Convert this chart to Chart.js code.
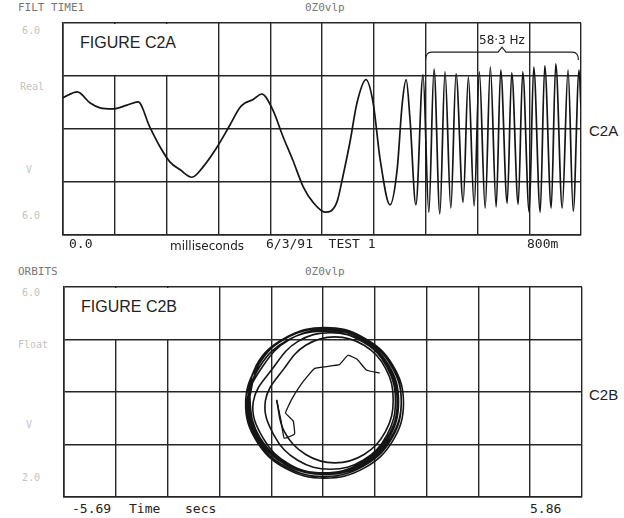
<!DOCTYPE html>
<html>
<head>
<meta charset="utf-8">
<script src="https://cdn.jsdelivr.net/npm/chart.js@4"></script>
<style>
  body { margin: 0; background: #fff; }
  #page { position: relative; width: 624px; height: 518px; overflow: hidden; background: #fff; }
  canvas { position: absolute; }
  .t { position: absolute; white-space: pre; line-height: 14px; }
  .mono { font-family: 'DejaVu Sans Mono', monospace; font-size: 13px; color: #222; }
  .faint { font-family: 'DejaVu Sans Mono', monospace; font-size: 10px; color: #c2c2c2; }
  .head { font-family: 'DejaVu Sans Mono', monospace; font-size: 11px; color: #777; }
  .side { font-family: 'Liberation Sans', Arial, sans-serif; font-size: 15px; color: #222; }
  .hand { font-family: 'DejaVu Sans', sans-serif; font-size: 12px; color: #222; }
  .figbox { position: absolute; background: #fff; font-family: 'Liberation Sans', Arial, sans-serif;
            font-size: 16px; color: #222; line-height: 16px; box-sizing: border-box; }
</style>
</head>
<body>
<div id="page">
  <canvas id="timeChart"></canvas>
  <canvas id="orbitChart"></canvas>
</div>
<script>
// top panel: filtered time trace (ms / V)
const timeMs = [0, 22, 42, 57, 77, 99, 116, 134, 150, 165, 181, 199, 216, 238, 258, 273, 281, 293, 307,
  324, 340, 355, 371, 386, 405, 423, 432, 443, 454, 468, 479, 490, 505, 516, 524, 530, 536, 545,
  556, 565, 573, 582, 590, 599, 607, 618, 626, 635, 643, 652, 660, 669, 676, 686, 693, 703, 710,
  720, 727, 737, 744, 754, 761, 771, 780, 788, 797, 800];
const signalV = [0.59, 0.70, 0.49, 0.40, 0.38, 0.45, 0.51, 0.04, -0.34, -0.62, -0.77, -0.91, -0.72, -0.34, 0.08, 0.40, 0.49, 0.55, 0.66,
  0.36, -0.15, -0.59, -1.09, -1.38, -1.57, -1.38, -0.91, -0.26, 0.49, 0.93, 0.49, -0.59, -1.43, -0.77, 0.49, 0.93, 0.17, -1.43,
  1.02, -1.57, 1.13, -1.60, 1.08, -1.49, 1.04, -1.38, 0.98, -1.45, 1.08, -1.49, 1.17, -1.47, 1.11, -1.40, 1.06, -1.42, 1.08,
  -1.57, 1.17, -1.57, 1.19, -1.49, 1.23, -1.49, 1.11, -1.55, 1.11, 0.40];

// 58.3 Hz bracket span (ms) and level (V)
const bracketMs = [560, 796];
const bracketV = 1.45;

// bottom panel: orbit, start-up path then the settled loops
const startX = [1.35, 1.05, 0.85, 0.64, 0.45, -0.10, -0.40, -0.62, -0.75, -0.58, -0.55, -0.78, -0.85, -0.95];
const startY = [0.36, 0.42, 0.62, 0.70, 0.52, 0.45, 0.15, -0.15, -0.40, -0.55, -0.80, -0.88, -0.55, -0.15];
const loopX = [
  -0.95, -0.78, -0.30, 0.35, 1.00, 1.48, 1.65, 1.48, 1.00, 0.35, -0.30, -0.78,
  -1.20, -1.01, -0.48, 0.25, 0.98, 1.51, 1.70, 1.51, 0.98, 0.25, -0.48, -1.01,
  -1.47, -1.25, -0.66, 0.15, 0.96, 1.55, 1.77, 1.55, 0.96, 0.15, -0.66, -1.25,
  -1.61, -1.38, -0.75, 0.11, 0.97, 1.60, 1.83, 1.60, 0.97, 0.11, -0.75, -1.38,
  -1.59, -1.37, -0.75, 0.09, 0.93, 1.55, 1.77, 1.55, 0.93, 0.09, -0.75, -1.37,
  -1.64, -1.40, -0.76, 0.12, 1.00, 1.64, 1.88, 1.64, 1.00, 0.12, -0.76, -1.40,
  -1.54, -1.32, -0.72, 0.10, 0.92, 1.52, 1.74, 1.52, 0.92, 0.10, -0.72, -1.32,
  -1.57, -1.34, -0.72, 0.13, 0.98, 1.60, 1.83, 1.60, 0.98, 0.13, -0.72, -1.34, -1.57];
const loopY = [
  -0.15, -0.75, -1.19, -1.35, -1.19, -0.75, -0.15, 0.45, 0.89, 1.05, 0.89, 0.45,
  -0.17, -0.82, -1.30, -1.47, -1.30, -0.82, -0.17, 0.48, 0.96, 1.13, 0.96, 0.48,
  -0.19, -0.88, -1.38, -1.56, -1.38, -0.88, -0.19, 0.50, 1.00, 1.18, 1.00, 0.50,
  -0.20, -0.91, -1.42, -1.61, -1.42, -0.91, -0.20, 0.51, 1.02, 1.21, 1.02, 0.51,
  -0.18, -0.87, -1.38, -1.56, -1.38, -0.87, -0.18, 0.51, 1.02, 1.20, 1.02, 0.51,
  -0.21, -0.93, -1.45, -1.64, -1.45, -0.93, -0.21, 0.51, 1.03, 1.22, 1.03, 0.51,
  -0.19, -0.87, -1.36, -1.54, -1.36, -0.87, -0.19, 0.49, 0.98, 1.16, 0.98, 0.49,
  -0.17, -0.87, -1.38, -1.57, -1.38, -0.87, -0.17, 0.53, 1.04, 1.23, 1.04, 0.53, -0.17];

// axis end labels and faded y labels
const xTickLabelsA = ['0.0', '800m'];
const xTickLabelsB = ['-5.69', '5.86'];
const xRangeB = [-5.69, 5.86];
const yLabelsA = ['6.0', 'Real', 'V', '6.0'];
const yLabelsB = ['6.0', 'Float', 'V', '2.0'];

const page = document.getElementById('page');
function addText(text, x, cy, cls) {
  const d = document.createElement('div');
  d.className = 't ' + cls;
  d.textContent = text;
  d.style.left = x + 'px';
  d.style.top = (cy - 7) + 'px';
  page.appendChild(d);
}
function addFigBox(text, x, y) {
  const d = document.createElement('div');
  d.className = 'figbox';
  d.textContent = text;
  d.style.left = x + 'px';
  d.style.top = y + 'px';
  d.style.width = '153px';
  d.style.height = '51px';
  d.style.padding = '11px 0 0 16px';
  page.appendChild(d);
}

function placeCanvas(id, left, top, w, h) {
  const c = document.getElementById(id);
  c.style.left = left + 'px';
  c.style.top = top + 'px';
  c.style.width = w + 'px';
  c.style.height = h + 'px';
  c.width = w;
  c.height = h;
  return c.getContext('2d');
}

const gridColor = '#262626';
function axes(xMin, xMax, xStep) {
  return {
    x: {
      type: 'linear', min: xMin, max: xMax,
      ticks: { display: false, stepSize: xStep },
      grid: { color: gridColor, lineWidth: 1.4, drawTicks: false },
      border: { display: true, color: gridColor, width: 1.6 }
    },
    y: {
      min: -2, max: 2,
      ticks: { display: false, stepSize: 1 },
      grid: { color: gridColor, lineWidth: 1.4, drawTicks: false },
      border: { display: true, color: gridColor, width: 1.6 }
    }
  };
}

// curly bracket over the 58.3 Hz section, in data coordinates
const bracketPlugin = {
  id: 'bracket',
  afterDatasetsDraw(chart) {
    const xs = chart.scales.x, ys = chart.scales.y;
    const x0 = xs.getPixelForValue(bracketMs[0]);
    const x1 = xs.getPixelForValue(bracketMs[1]);
    const xc = (x0 + x1) / 2;
    const yTop = ys.getPixelForValue(bracketV);
    const yHook = ys.getPixelForValue(bracketV - 0.15);
    const ctx = chart.ctx;
    ctx.save();
    ctx.strokeStyle = '#222';
    ctx.lineWidth = 1.2;
    ctx.beginPath();
    ctx.moveTo(x0, yHook);
    ctx.quadraticCurveTo(x0, yTop, x0 + 6, yTop);
    ctx.lineTo(xc - 4, yTop);
    ctx.lineTo(xc, yTop - 5);
    ctx.lineTo(xc + 4, yTop);
    ctx.lineTo(x1 - 6, yTop);
    ctx.quadraticCurveTo(x1, yTop, x1, yHook);
    ctx.stroke();
    ctx.restore();
  }
};

const ctxA = placeCanvas('timeChart', 61, 21, 522, 216);
new Chart(ctxA, {
  type: 'scatter',
  data: {
    datasets: [{
      data: timeMs.map((t, i) => ({ x: t, y: signalV[i] })),
      showLine: true,
      borderColor: '#151515',
      borderWidth: 1.7,
      pointRadius: 0,
      cubicInterpolationMode: 'monotone'
    }]
  },
  options: {
    responsive: false,
    animation: false,
    layout: { padding: 2 },
    plugins: { legend: { display: false }, tooltip: { enabled: false } },
    scales: axes(0, 800, 80)
  },
  plugins: [bracketPlugin]
});

const ctxB = placeCanvas('orbitChart', 62, 285, 522, 214);
new Chart(ctxB, {
  type: 'scatter',
  data: {
    datasets: [{
      data: startX.map((x, i) => ({ x: x, y: startY[i] })),
      showLine: true,
      borderColor: '#151515',
      borderWidth: 1.3,
      pointRadius: 0,
      tension: 0.1
    }, {
      data: loopX.map((x, i) => ({ x: x, y: loopY[i] })),
      showLine: true,
      borderColor: '#151515',
      borderWidth: 1.6,
      pointRadius: 0,
      tension: 0.4
    }]
  },
  options: {
    responsive: false,
    animation: false,
    layout: { padding: 2 },
    plugins: { legend: { display: false }, tooltip: { enabled: false } },
    scales: axes(xRangeB[0], xRangeB[1], (xRangeB[1] - xRangeB[0]) / 10)
  }
});

// top panel text
addText('FILT TIME1', 18, 8, 'head');
addText('0Z0vlp', 305, 8, 'head');
addFigBox('FIGURE C2A', 64, 24);
addText(yLabelsA[0], 22, 31, 'faint');
addText(yLabelsA[1], 20, 87, 'faint');
addText(yLabelsA[2], 26, 170, 'faint');
addText(yLabelsA[3], 22, 216, 'faint');
addText('C2A', 589, 131, 'side');
addText(xTickLabelsA[0], 69, 244, 'mono');
addText('milliseconds', 170, 246, 'hand');
addText('6/3/91  TEST 1', 266, 244, 'mono');
addText(xTickLabelsA[1], 527, 244, 'mono');
addText('58·3 Hz', 479, 40, 'hand');

// bottom panel text
addText('ORBITS', 18, 272, 'head');
addText('0Z0vlp', 305, 272, 'head');
addFigBox('FIGURE C2B', 65, 288);
addText(yLabelsB[0], 22, 293, 'faint');
addText(yLabelsB[1], 18, 345, 'faint');
addText(yLabelsB[2], 26, 425, 'faint');
addText(yLabelsB[3], 22, 478, 'faint');
addText('C2B', 589, 395, 'side');
addText(xTickLabelsB[0], 72, 509, 'mono');
addText('Time', 129, 509, 'mono');
addText('secs', 185, 509, 'mono');
addText(xTickLabelsB[1], 530, 509, 'mono');
</script>
</body>
</html>
